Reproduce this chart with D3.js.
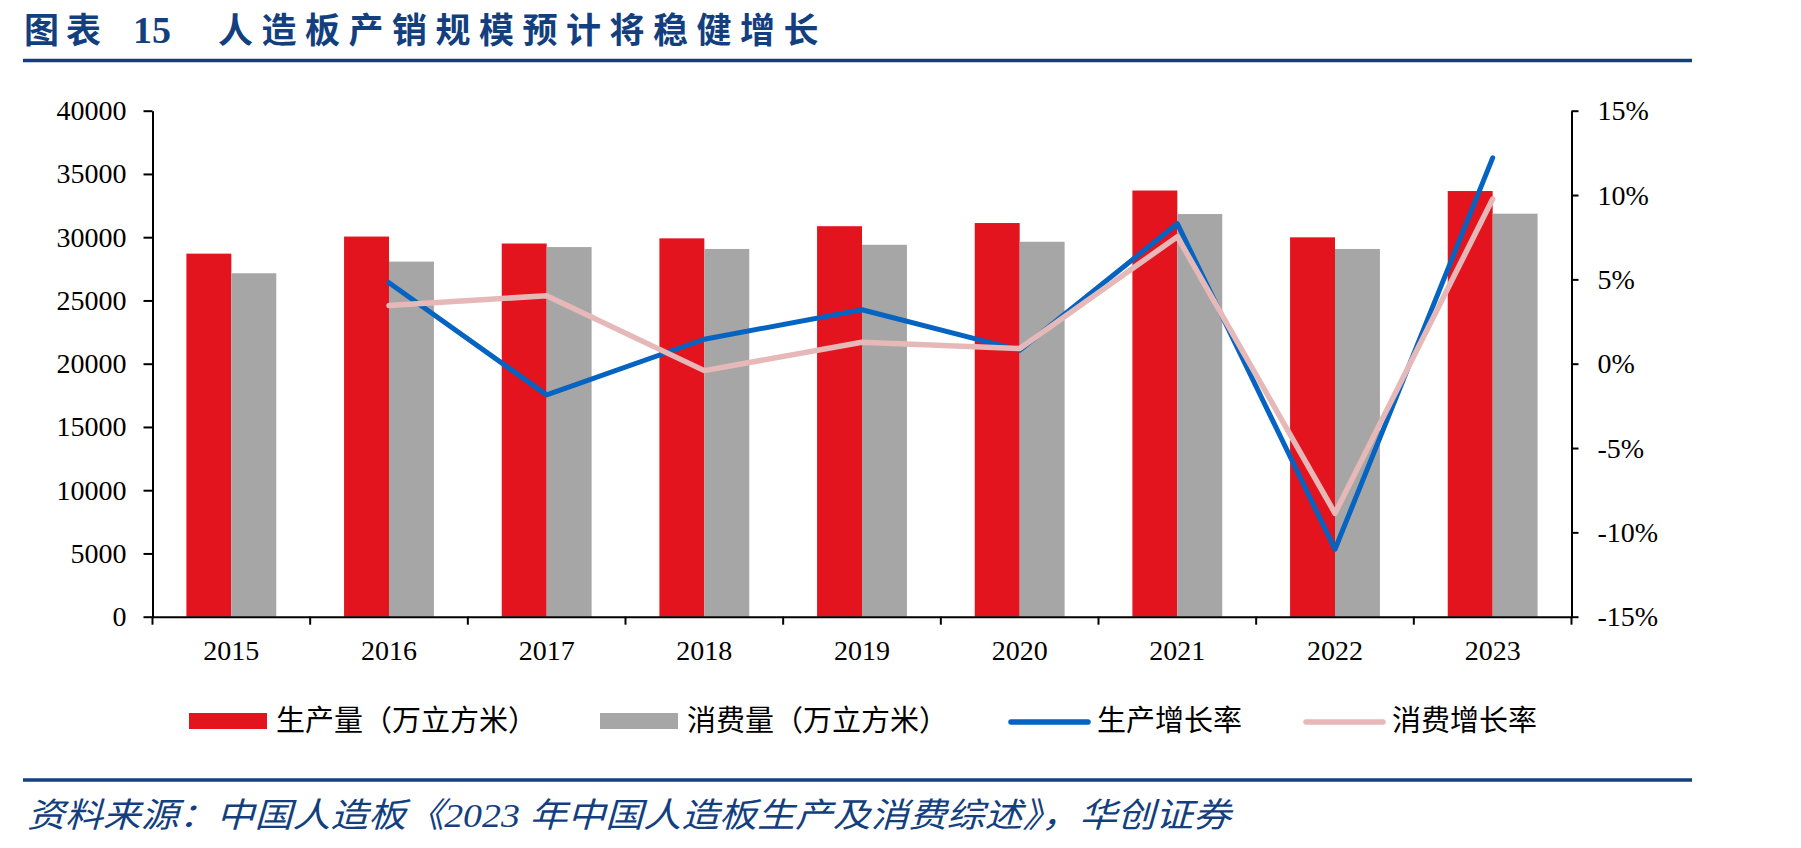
<!DOCTYPE html>
<html>
<head>
<meta charset="utf-8">
<script src="https://cdn.jsdelivr.net/npm/d3@7"></script>
<style>
body { margin: 0; background: #fff; }
</style>
</head>
<body>
<script>
var w = 1801;
var h = 848;
var plot = {"left": 152.5, "right": 1571.5, "top": 110.7, "bottom": 616.7};

// data
var years = ["2015", "2016", "2017", "2018", "2019", "2020", "2021", "2022", "2023"];
var production = [28700, 30050, 29500, 29910, 30870, 31120, 33690, 29990, 33650];
var consumption = [27150, 28070, 29220, 29070, 29400, 29640, 31830, 29070, 31860];
var growthYears = ["2016", "2017", "2018", "2019", "2020", "2021", "2022", "2023"];
var prodGrowth = [4.8, -1.85, 1.45, 3.2, 0.8, 8.3, -11.0, 12.2];
var consGrowth = [3.45, 4.03, -0.41, 1.27, 0.9, 7.53, -8.87, 9.76];
var leftTicks = [0, 5000, 10000, 15000, 20000, 25000, 30000, 35000, 40000];
var rightTicks = [-15, -10, -5, 0, 5, 10, 15];
var legendNames = ["生产量（万立方米）", "消费量（万立方米）", "生产增长率", "消费增长率"];

var red = "#e3141e";
var grey = "#a6a6a6";
var blue = "#0563c1";
var pink = "#e6b9b8";
var navy = "#133f7f";
var numFont = "'Liberation Serif', 'Times New Roman', serif";
var cjkFont = "'Noto Sans CJK SC', sans-serif";

var svg = d3.select("body")
            .append("svg")
            .attr("width", w)
            .attr("height", h);

// header
svg.append("text")
    .attr("x", 24).attr("y", 43)
    .attr("font-family", cjkFont).attr("font-weight", "bold")
    .attr("font-size", 35).attr("letter-spacing", 7)
    .attr("fill", navy)
    .text("图表");
svg.append("text")
    .attr("x", 133).attr("y", 43)
    .attr("font-family", numFont).attr("font-weight", "bold")
    .attr("font-size", 38)
    .attr("fill", navy)
    .text("15");
svg.append("text")
    .attr("x", 218).attr("y", 43)
    .attr("font-family", cjkFont).attr("font-weight", "bold")
    .attr("font-size", 35).attr("letter-spacing", 8.5)
    .attr("fill", navy)
    .text("人造板产销规模预计将稳健增长");

svg.append("line")
    .attr("x1", 23).attr("x2", 1692).attr("y1", 60.5).attr("y2", 60.5)
    .attr("stroke", navy).attr("stroke-width", 3.5);
svg.append("line")
    .attr("x1", 23).attr("x2", 1692).attr("y1", 780).attr("y2", 780)
    .attr("stroke", navy).attr("stroke-width", 3.5);

svg.append("text")
    .attr("x", 27).attr("y", 827)
    .attr("font-family", "'Liberation Serif', 'Noto Sans CJK SC', serif")
    .attr("font-style", "italic")
    .attr("font-size", 34)
    .attr("fill", navy)
    .attr("textLength", 1204)
    .attr("lengthAdjust", "spacingAndGlyphs")
    .text("资料来源：中国人造板《2023 年中国人造板生产及消费综述》，华创证券");

// scales
var xScale = d3.scaleBand()
                .domain(years)
                .range([plot.left, plot.right])
                .padding(0);
var barW = xScale.bandwidth() * 0.285;

var yScale = d3.scaleLinear()
                .domain([0, 40000])
                .range([plot.bottom, plot.top]);

var yRight = d3.scaleLinear()
                .domain([-15, 15])
                .range([plot.bottom, plot.top]);

// bars
var bars = svg.append("g").attr("id", "bars");
bars.selectAll("rect.prod")
    .data(production)
    .enter()
    .append("rect")
    .classed("prod", true)
    .attr("x", function(d, i){ return xScale(years[i]) + xScale.bandwidth()/2 - barW; })
    .attr("y", function(d){ return yScale(d); })
    .attr("width", barW)
    .attr("height", function(d){ return yScale(0) - yScale(d); })
    .attr("fill", red);

bars.selectAll("rect.cons")
    .data(consumption)
    .enter()
    .append("rect")
    .classed("cons", true)
    .attr("x", function(d, i){ return xScale(years[i]) + xScale.bandwidth()/2; })
    .attr("y", function(d){ return yScale(d); })
    .attr("width", barW)
    .attr("height", function(d){ return yScale(0) - yScale(d); })
    .attr("fill", grey);

// growth lines
var line = d3.line()
            .x(function(d, i){ return xScale(growthYears[i]) + xScale.bandwidth()/2; })
            .y(function(d){ return yRight(d); });

svg.append("path")
    .datum(prodGrowth)
    .attr("d", line)
    .attr("fill", "none")
    .attr("stroke", blue)
    .attr("stroke-width", 5)
    .attr("stroke-linecap", "round")
    .attr("stroke-linejoin", "round");

svg.append("path")
    .datum(consGrowth)
    .attr("d", line)
    .attr("fill", "none")
    .attr("stroke", pink)
    .attr("stroke-width", 5.5)
    .attr("stroke-linecap", "round")
    .attr("stroke-linejoin", "round");

// axes
function styleAxis(g){
    g.selectAll("path, line").attr("stroke", "#000").attr("stroke-width", 2);
    g.selectAll("text")
        .attr("font-family", numFont)
        .attr("font-size", 28)
        .attr("fill", "#000");
}

var yAxis = d3.axisLeft(yScale)
                .tickValues(leftTicks)
                .tickFormat(d3.format("d"))
                .tickSize(9)
                .tickSizeOuter(0)
                .tickPadding(17);
svg.append("g")
    .attr("id", "y-axis")
    .attr("transform", "translate(" + plot.left + ",0)")
    .call(yAxis)
    .call(styleAxis);

var yAxisRight = d3.axisRight(yRight)
                .tickValues(rightTicks)
                .tickFormat(function(d){ return d + "%"; })
                .tickSize(7)
                .tickSizeOuter(0)
                .tickPadding(19);
svg.append("g")
    .attr("id", "y-axis-right")
    .attr("transform", "translate(" + plot.right + ",0)")
    .call(yAxisRight)
    .call(styleAxis);

var xAxis = d3.axisBottom(xScale)
                .tickSize(0)
                .tickSizeOuter(0)
                .tickPadding(23);
var xg = svg.append("g")
    .attr("id", "x-axis")
    .attr("transform", "translate(0," + plot.bottom + ")")
    .call(xAxis)
    .call(styleAxis);

// category boundary ticks
xg.selectAll("line.bound")
    .data(d3.range(years.length + 1))
    .enter()
    .append("line")
    .classed("bound", true)
    .attr("x1", function(i){ return plot.left + i * xScale.step(); })
    .attr("x2", function(i){ return plot.left + i * xScale.step(); })
    .attr("y1", 0)
    .attr("y2", 8)
    .attr("stroke", "#000")
    .attr("stroke-width", 2);

// legend
var legendX = [189, 600, 1008, 1303];
var legendY = 721;
var legend = svg.selectAll("g.legend")
                .data(legendNames)
                .enter()
                .append("g")
                .classed("legend", true)
                .attr("transform", function(d, i){ return "translate(" + legendX[i] + "," + legendY + ")"; });

legend.each(function(d, i){
    var g = d3.select(this);
    if (i < 2) {
        g.append("rect")
            .attr("x", 0).attr("y", -8)
            .attr("width", 78).attr("height", 16)
            .attr("fill", i === 0 ? red : grey);
    } else {
        g.append("line")
            .attr("x1", 3).attr("x2", 80)
            .attr("y1", 1).attr("y2", 1)
            .attr("stroke", i === 2 ? blue : pink)
            .attr("stroke-width", 5.5)
            .attr("stroke-linecap", "round");
    }
    g.append("text")
        .attr("x", i < 2 ? 87 : 89)
        .attr("y", 0)
        .attr("dy", "0.36em")
        .attr("font-family", cjkFont)
        .attr("font-size", 29)
        .attr("fill", "#000")
        .text(d);
});
</script>
</body>
</html>
